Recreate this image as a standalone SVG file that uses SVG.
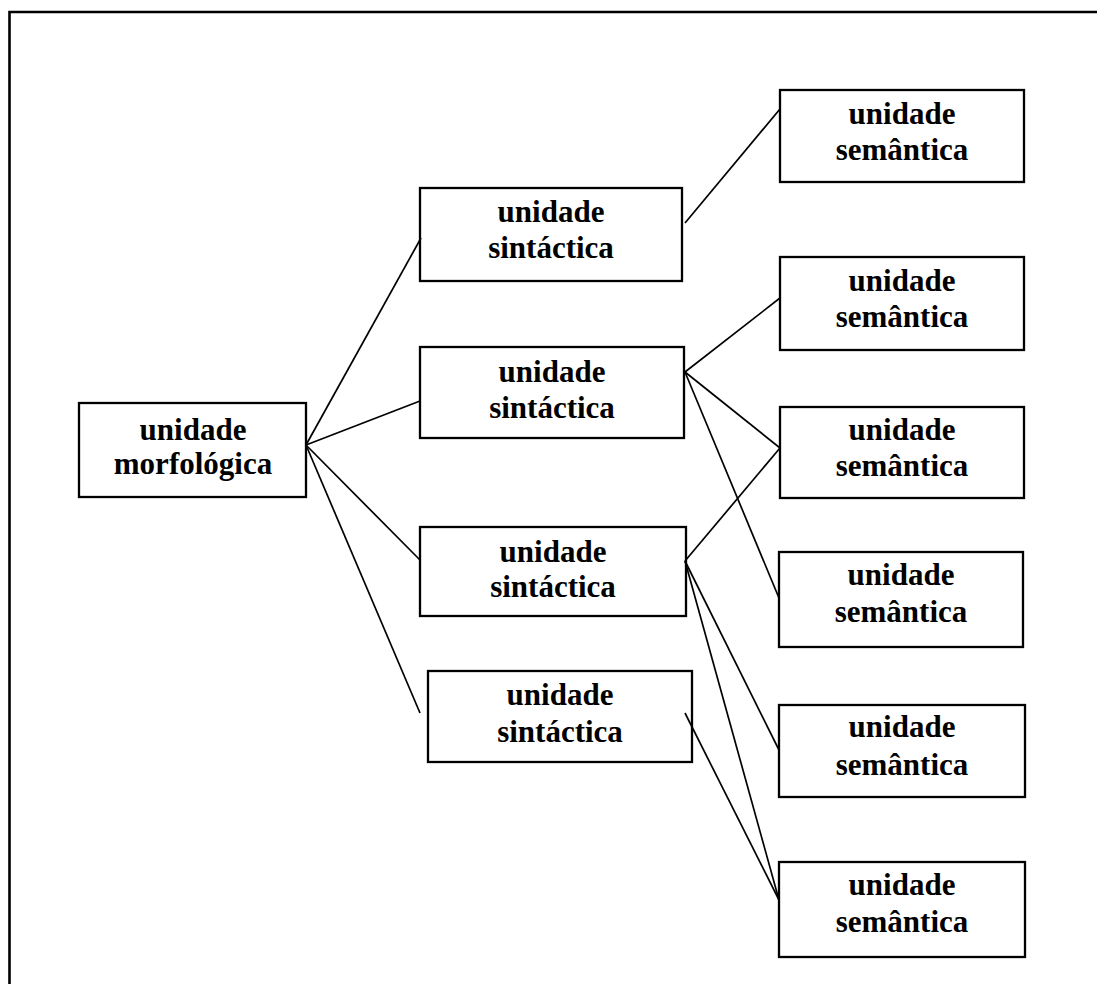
<svg xmlns="http://www.w3.org/2000/svg" width="1097" height="984" viewBox="0 0 1097 984">
<style>
.box{fill:#fff;stroke:#000;stroke-width:2.3}
.t{font-family:"Liberation Serif","Times New Roman",serif;font-weight:bold;font-size:31px;fill:#000;text-anchor:middle}
.c line{stroke:#000;stroke-width:1.7}
.frame{stroke:#000;stroke-width:2.6;fill:none}
</style>
<rect width="1097" height="984" fill="#fff"/>
<path class="frame" d="M9.5,984 V12 H1097"/>
<g id="morf">
<rect class="box" x="79" y="403" width="227" height="94"/>
<text class="t" x="193" y="440">unidade</text>
<text class="t" x="193" y="474">morfológica</text>
</g>
<g id="sint1">
<rect class="box" x="420" y="188" width="262" height="93"/>
<text class="t" x="551" y="222">unidade</text>
<text class="t" x="551" y="258">sintáctica</text>
</g>
<g id="sint2">
<rect class="box" x="420" y="347" width="264" height="91"/>
<text class="t" x="552" y="382">unidade</text>
<text class="t" x="552" y="418">sintáctica</text>
</g>
<g id="sint3">
<rect class="box" x="420" y="527" width="266" height="89"/>
<text class="t" x="553" y="562">unidade</text>
<text class="t" x="553" y="597">sintáctica</text>
</g>
<g id="sint4">
<rect class="box" x="428" y="671" width="264" height="91"/>
<text class="t" x="560" y="705">unidade</text>
<text class="t" x="560" y="742">sintáctica</text>
</g>
<g id="sem1">
<rect class="box" x="780" y="90" width="244" height="92"/>
<text class="t" x="902" y="124">unidade</text>
<text class="t" x="902" y="160">semântica</text>
</g>
<g id="sem2">
<rect class="box" x="780" y="257" width="244" height="93"/>
<text class="t" x="902" y="291">unidade</text>
<text class="t" x="902" y="327">semântica</text>
</g>
<g id="sem3">
<rect class="box" x="780" y="407" width="244" height="91"/>
<text class="t" x="902" y="440">unidade</text>
<text class="t" x="902" y="476">semântica</text>
</g>
<g id="sem4">
<rect class="box" x="779" y="552" width="244" height="95"/>
<text class="t" x="901" y="585">unidade</text>
<text class="t" x="901" y="622">semântica</text>
</g>
<g id="sem5">
<rect class="box" x="779" y="705" width="246" height="92"/>
<text class="t" x="902" y="737">unidade</text>
<text class="t" x="902" y="775">semântica</text>
</g>
<g id="sem6">
<rect class="box" x="779" y="862" width="246" height="95"/>
<text class="t" x="902" y="895">unidade</text>
<text class="t" x="902" y="932">semântica</text>
</g>
<g class="c" id="connectors">
<line x1="306" y1="445" x2="421" y2="238"/>
<line x1="306" y1="445" x2="420" y2="401"/>
<line x1="306" y1="445" x2="420" y2="560"/>
<line x1="306" y1="445" x2="420" y2="713"/>
<line x1="685" y1="223" x2="780" y2="109"/>
<line x1="685" y1="372" x2="780" y2="298"/>
<line x1="685" y1="372" x2="780" y2="448"/>
<line x1="685" y1="372" x2="779" y2="598"/>
<line x1="685" y1="561" x2="780" y2="448"/>
<line x1="685" y1="561" x2="779" y2="750"/>
<line x1="685" y1="561" x2="779" y2="900"/>
<line x1="685" y1="713" x2="779" y2="900"/>
</g>
</svg>
